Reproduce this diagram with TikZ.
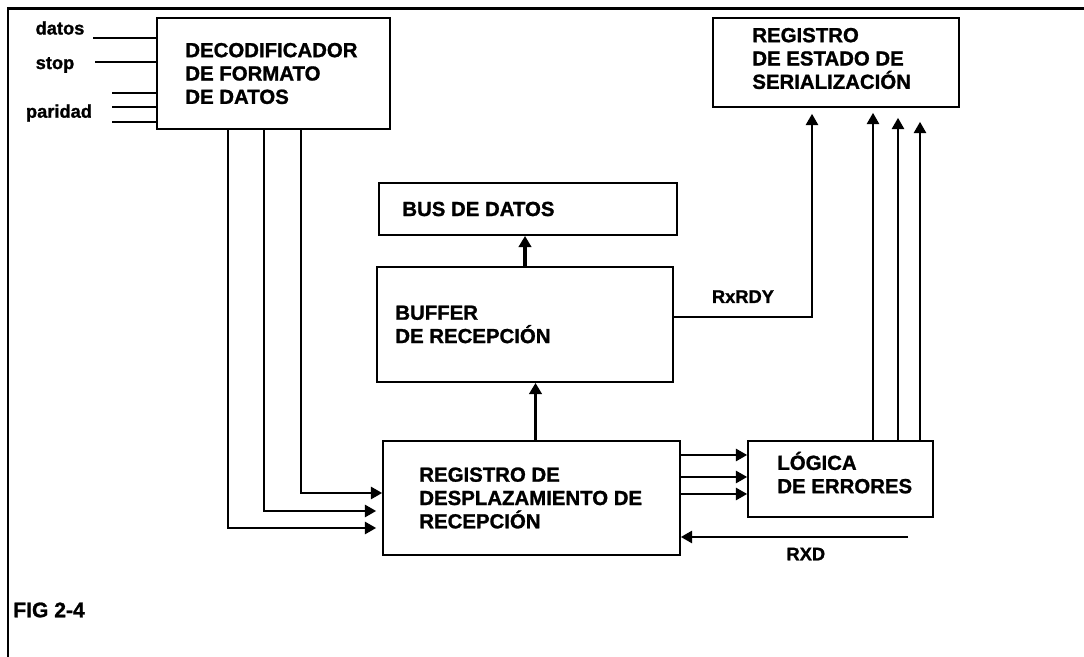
\documentclass[tikz,border=0pt]{standalone}
\usepackage{fontspec}
\setmainfont[BoldFeatures={FakeBold=1.2}]{Liberation Sans}
\usetikzlibrary{positioning,arrows.meta}
\newcommand{\boxfont}{\fontsize{14.5}{16.6}\selectfont\bfseries}
\newcommand{\sigfont}{\fontsize{13}{15}\selectfont\bfseries}

\begin{document}
\begin{tikzpicture}[
  blk/.style={draw, line width=1.3pt, inner sep=0pt},
  blktext/.style={inner sep=0pt, align=left, font=\boxfont},
  sig/.style={inner sep=0pt, font=\sigfont},
  wire/.style={line width=1.1pt},
  arr/.style={line width=1.1pt, -{Triangle[length=0.28cm, width=0.31cm]}},
  fatarr/.style={line width=2.4pt, -{Triangle[length=0.28cm, width=0.31cm]}}
]
  \useasboundingbox (0,0) rectangle (27.1,16.425);

  % ---------- Frame ----------
  \draw[line width=1.5pt] (0.2,0) -- (0.2,16.2125) -- (27.1,16.2125);

  % ---------- Blocks ----------
  \node[blk, minimum width=5.825cm, minimum height=2.775cm] (dec) at (6.8375,14.5875) {};
  \node[blktext, right=0.725cm of dec.west] (dectext) {DECODIFICADOR\\DE FORMATO\\DE DATOS};

  \node[blk, minimum width=6.15cm, minimum height=2.225cm] (est) at (20.9,14.8625) {};
  \node[blktext, right=1cm of est.west, yshift=0.1cm] (esttext) {REGISTRO\\DE ESTADO DE\\SERIALIZACIÓN};

  \node[blk, minimum width=7.45cm, minimum height=1.3cm] (bus) at (13.2,11.2) {};
  \node[blktext, right=0.6cm of bus.west] (bustext) {BUS DE DATOS};

  \node[blk, minimum width=7.4cm, minimum height=2.875cm] (buf) at (13.125,8.3125) {};
  \node[blktext, right=0.475cm of buf.west] (buftext) {BUFFER\\DE RECEPCIÓN};

  \node[blk, minimum width=7.425cm, minimum height=2.85cm] (desp) at (13.2875,3.975) {};
  \node[blktext, right=0.925cm of desp.west] (desptext) {REGISTRO DE\\DESPLAZAMIENTO DE\\RECEPCIÓN};

  \node[blk, minimum width=4.625cm, minimum height=1.9cm] (log) at (21.0125,4.45) {};
  \node[blktext, right=0.75cm of log.west, yshift=0.16cm] (logtext) {LÓGICA\\DE ERRORES};

  % ---------- Inputs of the decoder ----------
  \node[sig] (datos) at (1.5,15.725) {datos};
  \node[sig] (stop) at (1.375,14.8) {stop};
  \node[sig] (paridad) at (1.475,13.6) {paridad};

  \coordinate (datosin) at (2.325,15.475);
  \coordinate (stopin) at (2.375,14.875);
  \coordinate (parin1) at (2.8,14.1);
  \coordinate (parin2) at (2.8,13.75);
  \coordinate (parin3) at (2.8,13.375);
  \draw[wire] (datosin) -- (datosin -| dec.west);
  \draw[wire] (stopin) -- (stopin -| dec.west);
  \draw[wire] (parin1) -- (parin1 -| dec.west);
  \draw[wire] (parin2) -- (parin2 -| dec.west);
  \draw[wire] (parin3) -- (parin3 -| dec.west);

  % ---------- Decoder to shift register ----------
  \draw[arr] ([xshift=3.625cm]dec.south west) |- ([yshift=0.125cm]desp.west);
  \draw[arr, shorten >=0.15cm] ([xshift=2.7cm]dec.south west) |- ([yshift=-0.325cm]desp.west);
  \draw[arr, shorten >=0.15cm] ([xshift=1.8cm]dec.south west) |- ([yshift=-0.75cm]desp.west);

  % ---------- Data path ----------
  \draw[fatarr] ([xshift=0.1cm]desp.north) -- ([xshift=0.1cm]desp.north |- buf.south);
  \draw[fatarr] (buf.north) -- (buf.north |- bus.south);

  % ---------- Status ----------
  \draw[arr, shorten >=0.15cm] ([yshift=0.19cm]buf.east) -| ([xshift=-0.6cm]est.south)
    node[sig, pos=0.25, above=0.33cm] (rxrdy) {RxRDY};

  \draw[arr] ([yshift=1.075cm]desp.east) -- ([yshift=1.075cm]desp.east -| log.west);
  \draw[arr] ([yshift=0.525cm]desp.east) -- ([yshift=0.525cm]desp.east -| log.west);
  \draw[arr] ([yshift=0.1cm]desp.east) -- ([yshift=0.1cm]desp.east -| log.west);

  \draw[arr, shorten >=0.125cm] ([xshift=0.8125cm]log.north) -- ([xshift=0.8125cm]log.north |- est.south);
  \draw[arr, shorten >=0.25cm] ([xshift=1.4375cm]log.north) -- ([xshift=1.4375cm]log.north |- est.south);
  \draw[arr, shorten >=0.35cm] ([xshift=1.9875cm]log.north) -- ([xshift=1.9875cm]log.north |- est.south);

  % ---------- Serial input ----------
  \coordinate (rxdin) at (22.7,3.0);
  \draw[arr] (rxdin) -- (rxdin -| desp.east)
    node[sig, pos=0.45, below=0.25cm] (rxd) {RXD};

  % ---------- Caption ----------
  \node[inner sep=0pt, anchor=west, font=\fontsize{15}{17}\selectfont\bfseries] (fig) at (0.325,1.175) {FIG 2-4};
\end{tikzpicture}
\end{document}
